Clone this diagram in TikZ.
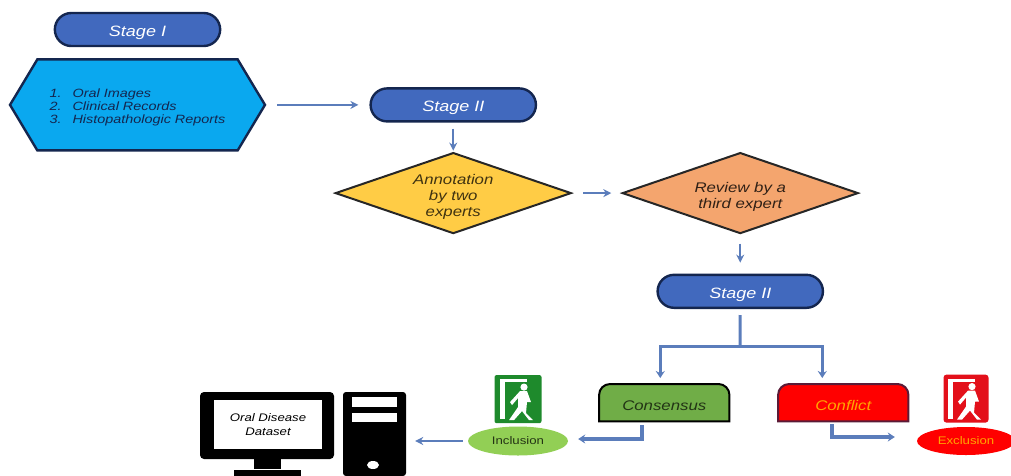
\documentclass[tikz,border=0pt]{standalone}
\usepackage{fontspec}
\setmainfont[FakeStretch=1.2]{Liberation Sans}
\usetikzlibrary{arrows.meta}
\usetikzlibrary{positioning}
\usetikzlibrary{backgrounds}
\usetikzlibrary{shapes.geometric}
\usetikzlibrary{shapes.misc}
\usetikzlibrary{shapes.symbols}
\definecolor{stageblue}{HTML}{4169BE}
\definecolor{darkline}{HTML}{14264F}
\definecolor{flowblue}{HTML}{5B7DBB}
\definecolor{skyfill}{HTML}{0AA8EF}
\definecolor{goldfill}{HTML}{FFCC45}
\definecolor{peachfill}{HTML}{F4A56E}
\definecolor{leaffill}{HTML}{70AD47}
\definecolor{limefill}{HTML}{92CF55}
\definecolor{signgreen}{HTML}{1E8A2C}
\definecolor{signred}{HTML}{E3101A}
\newcommand{\lowerline}{\rule{0pt}{17pt}}
\tikzset{node distance=30pt,
    every node/.style={
        align=center,
        font=\fontsize{14}{16}\selectfont\itshape},
    stagebox/.style={
        rounded rectangle,
        draw=darkline,
        line width=2.4pt,
        fill=stageblue,
        text=white,
        font=\fontsize{15}{16}\selectfont\itshape,
        text height=15pt,
        text depth=1pt,
        minimum width=172pt,
        minimum height=33pt},
    choice/.style={
        diamond,
        aspect=2.91,
        draw=black!85,
        line width=2pt,
        inner sep=0pt,
        minimum width=236pt,
        minimum height=81pt},
    tabbox/.style={
        text height=16pt,
        text depth=0pt,
        minimum width=130pt,
        minimum height=37pt,
        inner sep=0pt},
    tabshape/.style={
        line width=2pt,
        rounded corners=11pt},
    outcome/.style={
        ellipse,
        inner sep=0pt,
        font=\fontsize{11}{12}\selectfont},
    blackpart/.style={
        fill=black,
        inner sep=0pt},
    whitepart/.style={
        fill=white,
        inner sep=0pt},
    thinflow/.style={
        draw=flowblue,
        line width=2.2pt,
        -{Stealth[length=8pt,width=8pt]}},
    thickflow/.style={
        draw=flowblue,
        line width=3pt,
        -{Stealth[length=7pt,width=9pt]}},
    exitsign/.pic={
        \fill[white] (-18,-20) rectangle (-13,20);
        \fill[white] (-18,-20) rectangle (9,-17);
        \fill[white] (6,-12) circle (3.6);
        \fill[white] (2,-8) -- (9,-8) -- (13,3) -- (9,3) -- (8,14) -- (15,21)
            -- (11,21) -- (4,12) -- (-4,21) -- (-9,21) -- (0,8) -- (0,-1)
            -- (-6,6) -- (-8,3) -- cycle;
    }}

\begin{document}
\begin{tikzpicture}[x=1pt,y=-1pt]
    \useasboundingbox (0,0) rectangle (1011,475);

    \node[stagebox] (stage1) at (137.5,29.5) {Stage I};
    \node[signal, signal to=east and west, signal pointer angle=118,
        draw=darkline, line width=2.4pt, fill=skyfill, text=darkline,
        font=\fontsize{12}{13}\selectfont\itshape,
        minimum width=255pt, minimum height=91pt, inner sep=0pt,
        below=11pt of stage1] (sources) {%
        \begin{tabular}{@{}l@{\hspace{11pt}}l@{}}
            \rule{0pt}{15pt}1. & Oral Images\\
            2. & Clinical Records\\
            3. & Histopathologic Reports
        \end{tabular}};

    \node[stagebox, right=103pt of sources] (stage2) {Stage II};
    \node[choice, fill=goldfill, text=black!75!goldfill, below=29pt of stage2] (annot)
        {\lowerline Annotation\\by two\\experts};
    \node[choice, fill=peachfill, text=black!80!peachfill, right=49pt of annot] (review)
        {\lowerline Review by a\\third expert};
    \node[stagebox, below=39pt of review] (stage3) {Stage II};

    \node[tabbox, text=black!70!leaffill, below=75pt of stage3, xshift=-76pt] (consensus) {Consensus};
    \node[tabbox, text=orange!70!yellow, below=75pt of stage3, xshift=103pt] (conflict) {Conflict};
    \begin{scope}[on background layer]
        \draw[tabshape, draw=black, fill=leaffill] (consensus.south west) -- (consensus.north west)
            -- (consensus.north east) [sharp corners] -- (consensus.south east) -- cycle;
        \draw[tabshape, draw=darkline!70!red, fill=red] (conflict.south west) -- (conflict.north west)
            -- (conflict.north east) [sharp corners] -- (conflict.south east) -- cycle;
    \end{scope}

    \node[outcome, fill=limefill, text=black!75!limefill,
        minimum width=100pt, minimum height=29pt] (inclusion) at (518,441) {Inclusion};
    \node[outcome, fill=red, text=orange!70!yellow,
        minimum width=98pt, minimum height=28pt] (exclusion) at (966,441) {Exclusion};

    \node[fill=signgreen, rounded corners=2pt, minimum width=47pt, minimum height=48pt,
        above=3pt of inclusion] (greendoor) {};
    \node[fill=signred, rounded corners=3pt, minimum width=45pt, minimum height=48pt,
        above=4pt of exclusion] (reddoor) {};
    \pic at (greendoor) {exitsign};
    \pic at (reddoor) {exitsign};

    % computer
    \node[blackpart, rounded corners=4pt, minimum width=134pt, minimum height=67pt] (monitor) at (267,425.5) {};
    \node[whitepart, minimum width=108pt, minimum height=49pt,
        font=\fontsize{11}{14}\selectfont\itshape] (screen) at (268,424.5) {Oral Disease\\Dataset};
    \node[blackpart, minimum width=27pt, minimum height=10pt, below=0pt of monitor] (neck) {};
    \node[blackpart, minimum width=67pt, minimum height=7pt, below=0pt of neck] (foot) {};
    \node[blackpart, rounded corners=3pt, minimum width=63pt, minimum height=84pt] (tower) at (374.5,434) {};
    \node[whitepart, minimum width=45pt, minimum height=10pt] (slot1) at (374.5,402) {};
    \node[whitepart, minimum width=45pt, minimum height=9pt, below=6pt of slot1] (slot2) {};
    \node[whitepart, ellipse, minimum width=12pt, minimum height=8pt] (button) at (373,465) {};

    \draw[thinflow, shorten <=11pt, shorten >=11pt] (sources.east) -- (stage2.west);
    \draw[thinflow, shorten <=6pt, shorten >=1pt] (stage2.south) -- (stage2.south |- annot.north);
    \draw[thinflow, shorten <=11pt, shorten >=10pt] (annot.east) -- (review.west);
    \draw[thinflow, shorten <=9pt, shorten >=11pt] (review.south) -- (stage3.north);
    \draw[thinflow, shorten <=5pt, shorten >=9pt] (inclusion.west) -- (tower.east |- inclusion.west);

    \coordinate (branch) at (740,346);
    \draw[draw=flowblue, line width=3pt, shorten <=6pt] (stage3.south) -- (branch);
    \draw[thickflow, shorten >=6pt] (branch) -| ([xshift=-4pt]consensus.north);
    \draw[thickflow, shorten >=6pt] (branch) -| ([xshift=-21pt]conflict.north);
    \draw[thickflow, line width=4pt, shorten <=4pt, shorten >=10pt]
        ([xshift=-22pt]consensus.south) |- ([yshift=2pt]inclusion.east);
    \draw[thickflow, line width=4pt, shorten <=3pt, shorten >=22pt]
        ([xshift=-11pt]conflict.south) |- ([yshift=4pt]exclusion.west);
\end{tikzpicture}
\end{document}
